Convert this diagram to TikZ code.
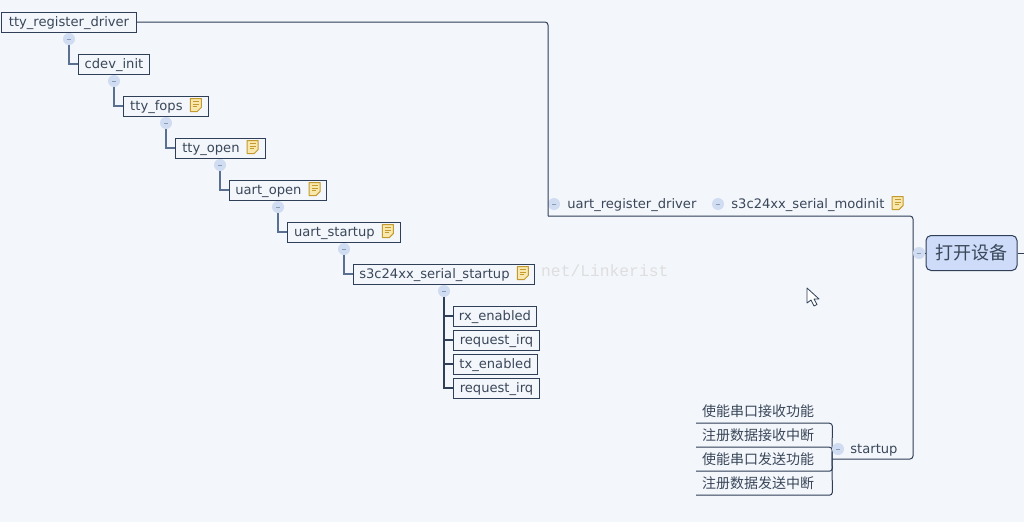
\documentclass[tikz,border=0pt]{standalone}
\usepackage{fontspec}
\setmainfont{DejaVu Sans}
\setmonofont{Liberation Mono}
\newfontfamily\cjk{Noto Sans CJK SC}
\usetikzlibrary{positioning}
\definecolor{pagefill}{HTML}{F3F6FB}
\definecolor{inkline}{HTML}{2E3F57}
\definecolor{inktext}{HTML}{3A4759}
\definecolor{branchline}{HTML}{5A7090}
\definecolor{knobfill}{HTML}{CFDCF2}
\definecolor{openfill}{HTML}{CEDCF9}
\definecolor{notefill}{HTML}{F8E8AE}
\definecolor{noteline}{HTML}{C49A2E}
\tikzset{
  every node/.append style={text=inktext, font=\fontsize{13.1}{15}\selectfont},
  every text node part/.append style={align=left}
}
\tikzstyle{boxed} = [draw=inkline, fill=pagefill, line width=1pt, anchor=west, minimum height=20pt, inner ysep=0pt, inner xsep=5pt, text height=11pt, text depth=2pt]
\tikzstyle{bare} = [anchor=west, inner sep=0pt, text height=11pt, text depth=2pt]
\tikzstyle{leaf} = [anchor=west, inner ysep=0pt, inner xsep=6pt, minimum height=24pt, text width=124pt, font=\cjk\fontsize{14}{16}\selectfont]
\tikzstyle{knob} = [circle, fill=knobfill, minimum size=12pt, inner sep=0pt,
  path picture={\draw[branchline!70, line width=0.6pt] ([xshift=-2pt]path picture bounding box.center) -- ([xshift=2pt]path picture bounding box.center);}]
\tikzstyle{trunk} = [draw=inkline, line width=1pt]
\tikzstyle{branch} = [draw=branchline, line width=1.5pt]
\newcommand\noteicon{%
  % small yellow sheet behind a box label
  \hspace{3pt}\tikz[x=1pt,y=1pt,baseline=1pt] {
    \draw[draw=noteline, fill=notefill, line width=1pt, line join=round] (0,0) -- (0,13) -- (11,13) -- (11,4) -- (7,0) -- cycle;
    \draw[draw=noteline, line width=0.8pt] (2.5,10) -- (8.5,10) (2.5,7.5) -- (8.5,7.5) (2.5,5) -- (6.5,5);
  }%
}
\newcommand\topic[4][]{
  % #1 (optional) - Additional style for the node
  % #2 - Tikz name
  % #3 - Location, left edge of the box
  % #4 - Body
  \node [boxed, #1] at (#3) (#2) {#4};
}
\begin{document}
\begin{tikzpicture}[x=1pt, y=-1pt]
  \useasboundingbox (0,0) rectangle (1024,522);
  \fill[pagefill] (0,0) rectangle (1024,522);

  \node [bare, font=\ttfamily\fontsize{16.3}{18}\selectfont, text=black!13] at (541,272) (watermark) {net/Linkerist};

  \topic[minimum width=135pt]{ttyreg}{1,22}{tty\_register\_driver}
  \topic[minimum width=71pt]{cdev}{78,64}{cdev\_init}
  \topic[minimum width=85pt]{fops}{123,106}{tty\_fops \noteicon}
  \topic[minimum width=90pt]{ttyopen}{175,148}{tty\_open \noteicon}
  \topic[minimum width=97pt]{uartopen}{229,190}{uart\_open \noteicon}
  \topic[minimum width=113pt]{uartstart}{287,232}{uart\_startup \noteicon}
  \topic[minimum width=181pt, fill=none]{serialstart}{353,274}{s3c24xx\_serial\_startup \noteicon}
  \topic[minimum width=83pt]{rxen}{453,316}{rx\_enabled}
  \topic[minimum width=86pt]{rxirq}{453,340}{request\_irq}
  \topic[minimum width=84pt]{txen}{453,364}{tx\_enabled}
  \topic[minimum width=86pt]{txirq}{453,388}{request\_irq}

  \node [knob] at (69,39) (knobreg) {};
  \node [knob] at (114,81) (knobcdev) {};
  \node [knob] at (166,123) (knobfops) {};
  \node [knob] at (220,165) (knobopen) {};
  \node [knob] at (278,207) (knobuart) {};
  \node [knob] at (344,249) (knobstart) {};
  \node [knob] at (444,291) (knobserial) {};

  \draw[branch] (knobreg) |- (cdev.west);
  \draw[branch] (knobcdev) |- (fops.west);
  \draw[branch] (knobfops) |- (ttyopen.west);
  \draw[branch] (knobopen) |- (uartopen.west);
  \draw[branch] (knobuart) |- (uartstart.west);
  \draw[branch] (knobstart) |- (serialstart.west);
  \draw[branch, draw=inkline] (knobserial) |- (rxen.west);
  \draw[branch, draw=inkline] (knobserial) |- (rxirq.west);
  \draw[branch, draw=inkline] (knobserial) |- (txen.west);
  \draw[branch, draw=inkline] (knobserial) |- (txirq.west);

  \coordinate (uartcorner) at (548,216);
  \coordinate (modcorner) at (913,216);
  \coordinate (startcorner) at (913,459);
  \coordinate (startend) at (832,459);
  \coordinate (rightedge) at (1024,253);

  \node [knob] at (554,204) (knobdrv) {};
  \node [bare, right=7pt of knobdrv] (uartdrv) {uart\_register\_driver};
  \node [knob] at (718,204) (knobmod) {};
  \node [bare, right=7pt of knobmod] (modinit) {s3c24xx\_serial\_modinit \noteicon};

  \draw[trunk, rounded corners=3pt] (ttyreg.east) -| (uartcorner);
  \draw[trunk, rounded corners=3pt] (uartcorner) -- (modcorner) -- (startcorner) -- (startend);

  \node [draw=inkline, fill=openfill, line width=1pt, rounded corners=5pt, minimum width=91pt, minimum height=35pt, inner sep=0pt, font=\cjk\fontsize{18}{20}\selectfont] at (971.5,253) (device) {打开设备};
  \node [knob] at (919,253) (knobdevice) {};
  \draw[trunk] (knobdevice) -- (device.west);
  \draw[trunk] (device.east) -- (rightedge);

  \node [leaf] at (696,411) (rxfunc) {使能串口接收功能};
  \node [leaf] at (696,435) (rxint) {注册数据接收中断};
  \node [leaf] at (696,459) (txfunc) {使能串口发送功能};
  \node [leaf] at (696,483) (txint) {注册数据发送中断};

  \draw[trunk, rounded corners=3pt] (rxfunc.south west) -- (rxfunc.south east) -- (startend);
  \draw[trunk, rounded corners=3pt] (rxint.south west) -- (rxint.south east) -- (startend);
  \draw[trunk, rounded corners=3pt] (txfunc.south west) -- (txfunc.south east) -- (startend);
  \draw[trunk, rounded corners=3pt] (txint.south west) -- (txint.south east) -- (startend);

  \node [knob] at (838,449) (knobstartup) {};
  \node [bare, right=6pt of knobstartup] (startup) {startup};

  % mouse pointer
  \draw[draw=inkline, fill=white, line width=0.8pt, line join=round] (807,288) -- (807,303) -- (811,300) -- (814,306) -- (817,304.5) -- (814,299) -- (819,299) -- cycle;
\end{tikzpicture}
\end{document}
